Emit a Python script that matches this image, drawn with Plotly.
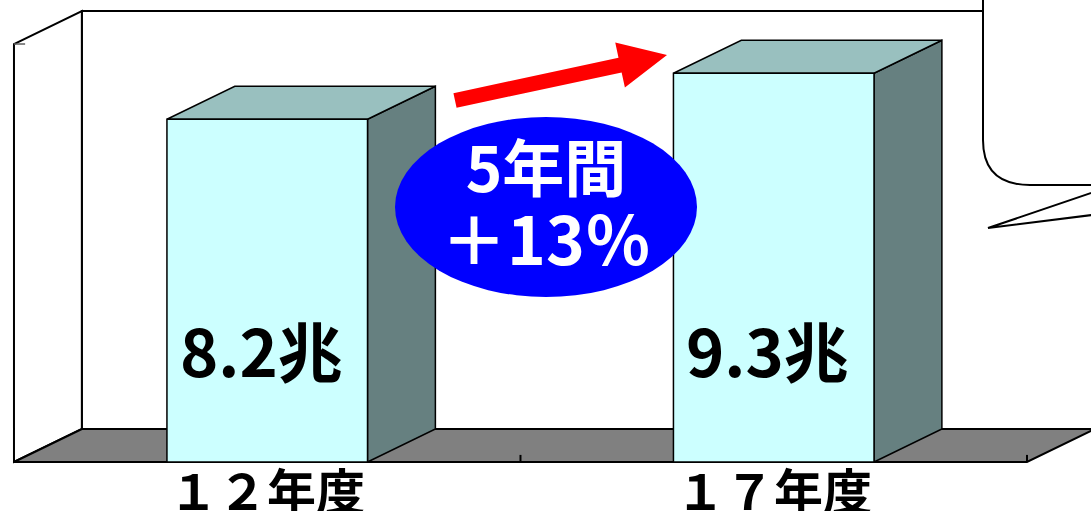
import math
import plotly.graph_objects as go

# ---------------- data ----------------
categories = ["１２年度", "１７年度"]
values = [8.2, 9.3]
value_unit = "兆"
growth_lines = ["5年間", "＋13％"]
axis_max = 10

# ---------------- geometry / style ----------------
W, H = 1091, 511
X_RANGE = [-0.5276, 1.6264]
Y_RANGE = [-1.172, 11.053]
BAR_HALF = 0.198      # half bar width (category units)
DX, DY = 0.134, 0.79  # 3-D depth offset (axis units)
FRONT, TOP, SIDE = "#CCFFFF", "#99C0BF", "#668080"
FLOOR = "#808080"
FONT = "Noto Sans CJK JP"


def P(x, y):
    """pixel -> paper coordinates (for decorations only)"""
    return x / W, 1 - y / H


def path_paper(points, close=True):
    s = ""
    for k, (x, y) in enumerate(points):
        px, py = P(x, y)
        s += ("M" if k == 0 else "L") + f"{px:.5f},{py:.5f} "
    return s + ("Z" if close else "")


fig = go.Figure()

# walls and floor (below traces)
x_l, x_r = -0.5, len(categories) - 0.5
wall_shapes = [
    (f"M{x_l+DX},{DY} L{x_l+DX},{axis_max+DY} L{x_r+DX},{axis_max+DY} L{x_r+DX},{DY} Z", "white"),
    (f"M{x_l},0 L{x_l},{axis_max} L{x_l+DX},{axis_max+DY} L{x_l+DX},{DY} Z", "white"),
    (f"M{x_l},0 L{x_r},0 L{x_r+DX},{DY} L{x_l+DX},{DY} Z", FLOOR),
]
shapes = []
for p, c in wall_shapes:
    shapes.append(dict(type="path", xref="x", yref="y", path=p, fillcolor=c,
                       line=dict(color="black", width=2), layer="below"))
# category boundary ticks
for k in range(1, len(categories) + 1):
    b = k - 0.5
    shapes.append(dict(type="line", xref="x", yref="y", x0=b, x1=b, y0=0, y1=0.17,
                       line=dict(color="black", width=2), layer="below"))
# value axis top tick
shapes.append(dict(type="line", xref="x", yref="y", x0=x_l, x1=x_l + 0.022,
                   y0=axis_max, y1=axis_max, line=dict(color="#606060", width=1.5),
                   layer="below"))

# bars as 3-D boxes
for i, v in enumerate(values):
    x0, x1 = i - BAR_HALF, i + BAR_HALF
    faces = [
        ([x1, x1 + DX, x1 + DX, x1, x1], [0, DY, v + DY, v, 0], SIDE),
        ([x0, x1, x1 + DX, x0 + DX, x0], [v, v, v + DY, v + DY, v], TOP),
        ([x0, x1, x1, x0, x0], [0, 0, v, v, 0], FRONT),
    ]
    for xs, ys, c in faces:
        fig.add_trace(go.Scatter(x=xs, y=ys, mode="lines", fill="toself",
                                 fillcolor=c, line=dict(color="black", width=1.5),
                                 hoverinfo="skip", showlegend=False))

# red arrow
sx, sy, tx, ty = 455, 100.5, 667, 55
L = math.hypot(tx - sx, ty - sy)
ux, uy = (tx - sx) / L, (ty - sy) / L
nx, ny = -uy, ux
head_len, head_w, shaft_w = 48, 23, 7.5
bx, by = tx - ux * head_len, ty - uy * head_len
arrow_pts = [
    (sx - nx * shaft_w, sy - ny * shaft_w),
    (bx - nx * shaft_w, by - ny * shaft_w),
    (bx - nx * head_w, by - ny * head_w),
    (tx, ty),
    (bx + nx * head_w, by + ny * head_w),
    (bx + nx * shaft_w, by + ny * shaft_w),
    (sx + nx * shaft_w, sy + ny * shaft_w),
]
shapes.append(dict(type="path", xref="paper", yref="paper", path=path_paper(arrow_pts),
                   fillcolor="#FF0000", line=dict(width=0), layer="above"))

# blue ellipse
ex0, ey0 = P(395, 297)
ex1, ey1 = P(697, 117)
shapes.append(dict(type="circle", xref="paper", yref="paper", x0=ex0, x1=ex1, y0=ey0, y1=ey1,
                   fillcolor="#0000FF", line=dict(width=0), layer="above"))

# speech bubble (rounded rectangle) and tail
a = P(983, -10); b = P(983, 140); c = P(983, 185); d = P(1030, 185); e = P(1100, 185); f = P(1100, -10)
bubble = (f"M{a[0]:.5f},{a[1]:.5f} L{b[0]:.5f},{b[1]:.5f} Q{c[0]:.5f},{c[1]:.5f} {d[0]:.5f},{d[1]:.5f} "
          f"L{e[0]:.5f},{e[1]:.5f} L{f[0]:.5f},{f[1]:.5f} Z")
shapes.append(dict(type="path", xref="paper", yref="paper", path=bubble,
                   fillcolor="white", line=dict(color="black", width=2), layer="above"))
shapes.append(dict(type="path", xref="paper", yref="paper",
                   path=path_paper([(1100, 190), (988, 228), (1100, 214)]),
                   fillcolor="white", line=dict(color="black", width=2), layer="above"))

annotations = []
# value labels inside bars
for i, v in enumerate(values):
    annotations.append(dict(x=i - 0.012, y=2.70, xref="x", yref="y", text=f"{v}{value_unit}",
                            showarrow=False, xanchor="center", yanchor="middle",
                            font=dict(family=FONT, size=65, color="black", weight="bold")))
# category labels
for i, cat in enumerate(categories):
    annotations.append(dict(x=i, y=-0.63, xref="x", yref="y", text=cat,
                            showarrow=False, xanchor="center", yanchor="middle",
                            font=dict(family=FONT, size=49, color="black", weight="bold")))
# ellipse text (two lines, one annotation)
gx, gy = P(546, 202)
annotations.append(dict(
    x=gx, y=gy, xref="paper", yref="paper",
    text=(f"<span style='font-size:62px'>{growth_lines[0]}</span><br>"
          f"<span style='font-size:66px'>{growth_lines[1]}</span>"),
    showarrow=False, xanchor="center", yanchor="middle", align="center",
    font=dict(family=FONT, size=56, color="white", weight="bold")))

fig.update_layout(
    width=W, height=H, margin=dict(l=0, r=0, t=0, b=0),
    paper_bgcolor="white", plot_bgcolor="white",
    xaxis=dict(range=X_RANGE, visible=False, fixedrange=True),
    yaxis=dict(range=Y_RANGE, visible=False, fixedrange=True),
    shapes=shapes, annotations=annotations, showlegend=False,
)
fig.write_html("out.html", config={"displayModeBar": False},
               post_script="document.body.style.margin='0';document.body.style.overflow='hidden';")
